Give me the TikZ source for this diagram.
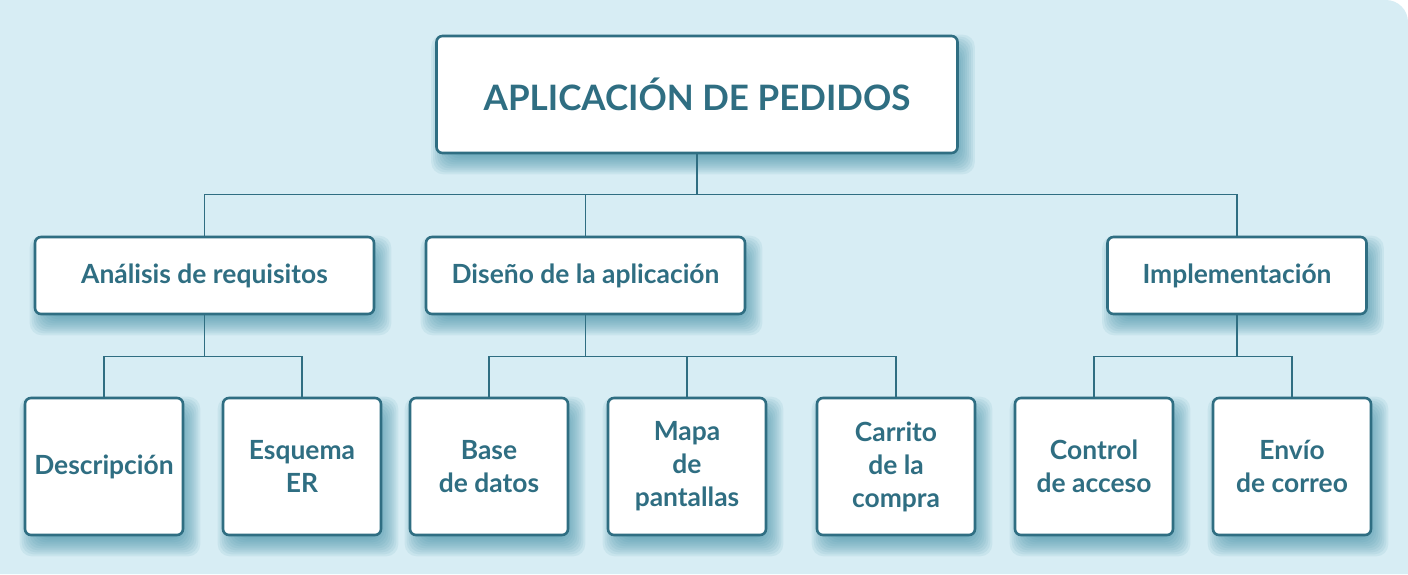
\documentclass[tikz,border=0pt]{standalone}
\usepackage{fontspec}
\setmainfont{Lato}
\usetikzlibrary{calc}
\definecolor{fondo}{HTML}{D7EDF4}
\definecolor{azul}{HTML}{2F6E82}
\definecolor{sombra}{HTML}{3A8AA2}
\pgfdeclarelayer{background}
\pgfsetlayers{background,main}
\def\sombrear(#1){\foreach \k in {1,...,12}{\fill[sombra, opacity=0.09, rounded corners=12pt] ($(#1.south west)+(-6+2*\k, 22-2*\k)$) rectangle ($(#1.north east)+(18-2*\k, -2+2*\k)$);}}
\tikzset{
	caja/.style={draw=azul, line width=2.6pt, fill=white, rounded corners=6pt, text=azul, font=\bfseries\fontsize{26.4}{33}\selectfont, align=center, inner sep=0pt},
	raiz/.style={caja, minimum width=521pt, minimum height=117pt, font=\bfseries\fontsize{35}{40}\selectfont},
	fase/.style={caja, minimum height=77pt},
	hoja/.style={caja, minimum width=158pt, minimum height=137pt},
	enlace/.style={azul, line width=1.5pt},
}

\begin{document}
\begin{tikzpicture}[x=1pt, y=-1pt]
		%%%%% START %%%%%
		\useasboundingbox (0,0) rectangle (1408,574);
		
		\node[raiz] (app) at (697,94.5) {APLICACIÓN DE PEDIDOS};
		
		\node[fase, minimum width=339pt] (ana) at (204.5,275.5) {Análisis de requisitos};
		\node[fase, minimum width=319pt] (dis) at (585.5,275.5) {Diseño de la aplicación};
		\node[fase, minimum width=259pt] (imp) at (1237,275.5) {Implementación};
		
		\node[hoja] (desc) at (104,466.5) {Descripción};
		\node[hoja] (esq) at (302,466.5) {Esquema\\ER};
		\node[hoja] (base) at (489,466.5) {Base\\de datos};
		\node[hoja] (mapa) at (687,466.5) {Mapa\\de\\pantallas};
		\node[hoja] (carr) at (896,466.5) {Carrito\\de la\\compra};
		\node[hoja] (ctrl) at (1094,466.5) {Control\\de acceso};
		\node[hoja] (envio) at (1292,466.5) {Envío\\de correo};
		
		\draw[enlace] (app.south) -- ++(0,40) -| (ana.north);
		\draw[enlace] (app.south) -- ++(0,40) -| (dis.north);
		\draw[enlace] (app.south) -- ++(0,40) -| (imp.north);
		
		\draw[enlace] (ana.south) -- ++(0,41) -| (desc.north);
		\draw[enlace] (ana.south) -- ++(0,41) -| (esq.north);
		\draw[enlace] (dis.south) -- ++(0,41) -| (base.north);
		\draw[enlace] (dis.south) -- ++(0,41) -| (mapa.north);
		\draw[enlace] (dis.south) -- ++(0,41) -| (carr.north);
		\draw[enlace] (imp.south) -- ++(0,41) -| (ctrl.north);
		\draw[enlace] (imp.south) -- ++(0,41) -| (envio.north);
		
		\begin{pgfonlayer}{background}
			\fill[fondo] (0,574) -- (0,0) -- (1386,0) arc[start angle=-90, end angle=0, radius=22] -- (1408,574) -- cycle;
			\foreach \n in {app,ana,dis,imp,desc,esq,base,mapa,carr,ctrl,envio}{\sombrear(\n)}
		\end{pgfonlayer}
		%%%%% END %%%%%
\end{tikzpicture}
\end{document}
